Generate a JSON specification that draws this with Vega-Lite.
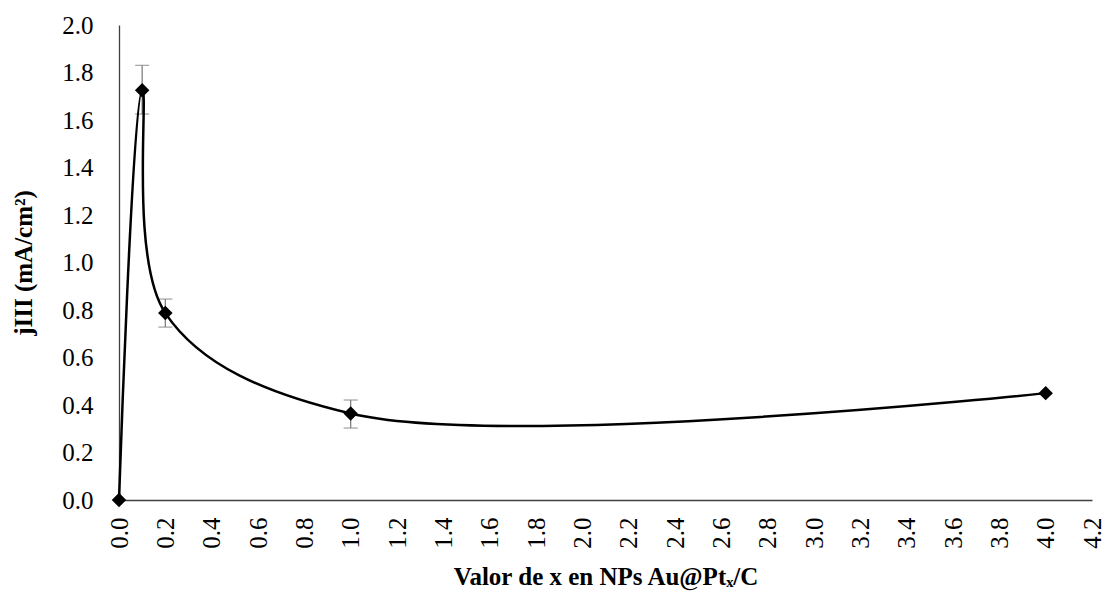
{
  "$schema": "https://vega.github.io/schema/vega-lite/v6.json",
  "width": 973,
  "height": 475,
  "autosize": "none",
  "padding": {"left": 119, "top": 25, "right": 12, "bottom": 96},
  "background": "white",
  "config": {
    "view": {"stroke": null},
    "font": "Liberation Serif",
    "axis": {
      "grid": false,
      "ticks": false,
      "domainColor": "#404040",
      "domainWidth": 1.3,
      "labelFont": "Liberation Serif",
      "labelFontSize": 25,
      "labelColor": "black",
      "titleFont": "Liberation Serif",
      "titleFontSize": 25,
      "titleFontWeight": "bold",
      "titleColor": "black"
    }
  },
  "data": {
    "values": [
      {"x": 0.0, "j": 0.0, "lo": null, "hi": null},
      {"x": 0.1, "j": 1.725, "lo": 1.625, "hi": 1.83},
      {"x": 0.2, "j": 0.787, "lo": 0.728, "hi": 0.846},
      {"x": 1.0, "j": 0.364, "lo": 0.303, "hi": 0.421},
      {"x": 4.0, "j": 0.45, "lo": null, "hi": null}
    ]
  },
  "encoding": {
    "x": {
      "field": "x",
      "type": "quantitative",
      "scale": {"domain": [0, 4.2], "nice": false, "zero": false},
      "axis": {
        "values": [0, 0.2, 0.4, 0.6, 0.8, 1.0, 1.2, 1.4, 1.6, 1.8, 2.0, 2.2, 2.4, 2.6, 2.8, 3.0, 3.2, 3.4, 3.6, 3.8, 4.0, 4.2],
        "format": ".1f",
        "labelAngle": -90,
        "labelPadding": 17,
        "labelFlush": false,
        "labelOverlap": false,
        "title": "Valor de x en NPs Au@Ptₓ/C",
        "titlePadding": 16
      }
    }
  },
  "layer": [
    {
      "transform": [{"filter": "datum.lo != null"}],
      "mark": {"type": "rule", "color": "#808080", "strokeWidth": 1.3},
      "encoding": {
        "y": {"field": "lo", "type": "quantitative"},
        "y2": {"field": "hi"}
      }
    },
    {
      "transform": [{"filter": "datum.lo != null"}],
      "mark": {"type": "tick", "orient": "horizontal", "color": "#808080", "size": 14, "thickness": 1.3},
      "encoding": {"y": {"field": "lo", "type": "quantitative"}}
    },
    {
      "transform": [{"filter": "datum.hi != null"}],
      "mark": {"type": "tick", "orient": "horizontal", "color": "#808080", "size": 14, "thickness": 1.3},
      "encoding": {"y": {"field": "hi", "type": "quantitative"}}
    },
    {
      "mark": {"type": "line", "interpolate": "catmull-rom", "color": "black", "strokeWidth": 2.5},
      "encoding": {
        "y": {
          "field": "j",
          "type": "quantitative",
          "scale": {"domain": [0, 2], "nice": false},
          "axis": {
            "values": [0, 0.2, 0.4, 0.6, 0.8, 1.0, 1.2, 1.4, 1.6, 1.8, 2.0],
            "format": ".1f",
            "labelPadding": 26,
            "labelFlush": false,
            "labelOverlap": false,
            "title": "jIII (mA/cm²)",
            "titlePadding": 25
          }
        }
      }
    },
    {
      "mark": {"type": "point", "shape": "diamond", "filled": true, "color": "black", "size": 210, "opacity": 1},
      "encoding": {"y": {"field": "j", "type": "quantitative"}}
    }
  ]
}
